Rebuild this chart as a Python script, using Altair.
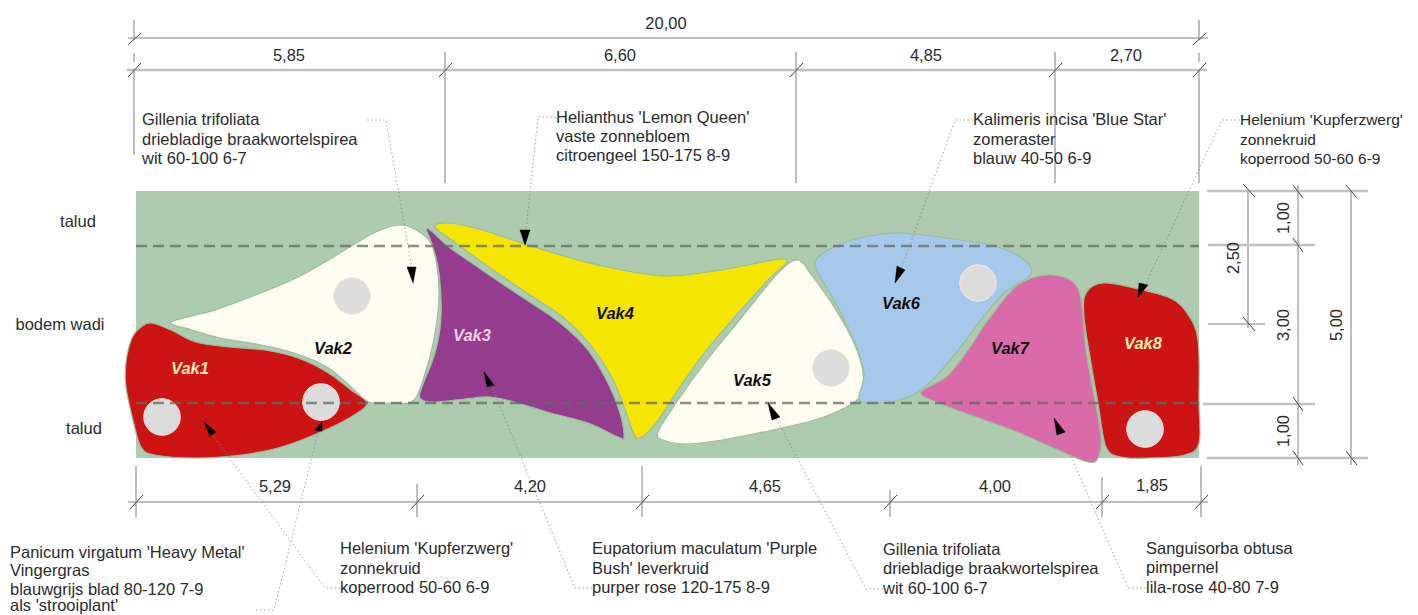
import altair as alt
import pandas as pd

# ---- values (page pixels) ----
vak1 = [(151,323),(171,330),(196,342),(229,347),(265,350),(298,358),(327,372),(351,390),(367,403),(351,417),(314,435),(278,448),(241,455),(196,458),(155,455),(141,447),(133,420),(126,387),(126,362),(132,338),(141,327)]
vak2 = [(171,322),(212,311),(253,296),(294,279),(325,262),(353,245),(378,231),(400,225),(416,230),(431,243),(437,267),(439,297),(435,333),(427,367),(414,400),(392,403),(369,402),(351,387),(327,367),(294,353),(261,345),(220,338),(192,330)]
vak3 = [(427,228),(449,247),(482,270),(522,297),(559,322),(588,350),(608,383),(620,413),(624,437),(618,437),(588,423),(547,412),(514,402),(490,397),(465,399),(433,402),(420,398),(422,387),(435,353),(441,317),(439,273),(433,247)]
vak4 = [(435,227),(449,223),(482,230),(522,243),(571,258),(612,268),(666,276),(722,270),(785,259),(768,280),(732,320),(701,357),(676,393),(656,423),(640,438),(633,432),(626,412),(613,380),(592,347),(564,318),(527,293),(486,265),(453,241)]
vak5 = [(798,260),(813,277),(834,307),(854,343),(863,373),(859,398),(824,417),(773,430),(722,440),(686,444),(663,440),(658,432),(676,403),(707,360),(742,317),(778,273)]
vak6 = [(816,260),(834,247),(864,237),(900,233),(946,238),(991,245),(1017,255),(1031,268),(1027,278),(1004,293),(981,320),(956,353),(925,387),(900,400),(869,403),(859,398),(864,373),(854,340),(834,300),(818,273)]
vak7 = [(1053,275),(1073,282),(1081,300),(1086,350),(1093,390),(1101,437),(1098,458),(1088,462),(1058,450),(1017,432),(976,417),(936,402),(921,392),(946,377),(966,353),(986,323),(1012,290),(1032,278)]
vak8 = [(1103,283),(1134,288),(1170,298),(1187,313),(1198,340),(1199,403),(1199,443),(1185,455),(1149,458),(1121,457),(1106,447),(1098,403),(1091,363),(1084,317),(1086,293)]
beds = [(vak1,"#CC1414"),(vak2,"#FFFCF2"),(vak4,"#F5E600"),(vak3,"#943D8F"),(vak5,"#FFFCF2"),(vak6,"#A6C8EB"),(vak7,"#D96BA8"),(vak8,"#CC1414")]

circle_x = [162,321,352,831,978,1145]
circle_y = [417,402,296,368,283,429]

arrows = [
    [(407,267),(416,267),(413,283)],
    [(520,230),(530,230),(525,245)],
    [(897,266),(905,270),(895,283)],
    [(1139,283),(1148,285),(1138,297)],
    [(314,430),(322,422),(322,431)],
    [(204,422),(216,432),(210,436)],
    [(484,372),(494,385),(487,387)],
    [(768,403),(780,417),(772,420)],
    [(1054,418),(1065,432),(1057,435)],
]
leaders = [
    [(367,120),(386,120),(414,280)],
    [(556,117),(538,117),(525,240)],
    [(973,120),(955,120),(898,278)],
    [(1240,120),(1222,120),(1142,292)],
    [(256,610),(274,610),(319,428)],
    [(340,588),(325,588),(209,430)],
    [(592,588),(575,588),(489,380)],
    [(883,589),(866,589),(773,412)],
    [(1146,588),(1128,588),(1059,428)],
]
dashed = [[(136,246),(1199,246)],[(136,403),(1199,403)]]
dims_thin = [
    [(128,38),(1208,38)],
    [(134,20),(134,40)],[(134,53),(134,62)],[(134,70),(134,155)],
    [(445,52),(445,183)],[(796,52),(796,183)],[(1055,52),(1055,183)],
    [(1199,20),(1199,40)],[(1199,53),(1199,62)],[(1199,70),(1199,183)],
    [(128,502),(1208,502)],
    [(136,466),(136,517)],[(417,484),(417,517)],[(642,466),(642,517)],[(890,490),(890,517)],[(1102,477),(1102,517)],[(1201,466),(1201,517)],
    [(1208,324),(1265,324)],
    [(1248,191),(1248,328)],[(1298,185),(1298,465)],[(1351,190),(1351,465)],
]
dims_thick = [
    [(127,70),(1207,70)],
    [(1207,191),(1368,191)],[(1208,245),(1315,245)],[(1203,404),(1315,404)],[(1207,458),(1368,458)],
]
slashes = [
    [(128,45),(141,33)],[(128,77),(141,63)],[(439,77),(452,63)],[(790,77),(803,63)],[(1049,77),(1062,63)],[(1193,77),(1206,63)],[(1193,45),(1206,33)],
    [(130,509),(143,495)],[(411,509),(424,495)],[(636,509),(649,495)],[(884,509),(897,495)],[(1096,509),(1109,495)],[(1195,509),(1208,495)],
    [(1243,184),(1255,197)],[(1293,185),(1303,198)],[(1346,185),(1357,198)],[(1293,238),(1303,252)],[(1243,317),(1255,331)],[(1293,397),(1303,411)],[(1293,451),(1303,465)],[(1346,451),(1357,465)],
]

plain_text = [
    ("20,00",666,24),("5,85",289,56),("6,60",620,56),("4,85",926,56),("2,70",1126,56),
    ("5,29",275,487),("4,20",530,487),("4,65",765,487),("4,00",995,487),("1,85",1152,486),
]
rotated_text = [("2,50",1234,258),("1,00",1284,218),("3,00",1284,325),("1,00",1284,431),("5,00",1337,325)]
left_text = [("talud",78,222),("bodem wadi",60,325),("talud",84,429)]
vak_text = [
    ("Vak1",190,369,"#FFE9B0"),("Vak2",333,349,"#111111"),("Vak3",472,336,"#F0D0E8"),("Vak4",615,314,"#111111"),
    ("Vak5",752,381,"#111111"),("Vak6",901,304,"#111111"),("Vak7",1010,349,"#111111"),("Vak8",1143,344,"#FFE9B0"),
]
notes = [
    ("Gillenia trifoliata",142,120),("driebladige braakwortelspirea",142,140),("wit 60-100 6-7",142,159),
    ("Helianthus 'Lemon Queen'",556,118),("vaste zonnebloem",556,137),("citroengeel 150-175 8-9",556,156),
    ("Kalimeris incisa 'Blue Star'",973,120),("zomeraster",973,140),("blauw 40-50 6-9",973,159),
    ("Panicum virgatum 'Heavy Metal'",10,553),("Vingergras",10,571),("blauwgrijs blad 80-120 7-9",10,590),("als 'strooiplant'",10,606),
    ("Helenium 'Kupferzwerg'",340,549),("zonnekruid",340,569),("koperrood 50-60 6-9",340,588),
    ("Eupatorium maculatum 'Purple",592,549),("Bush' leverkruid",592,569),("purper rose 120-175 8-9",592,588),
    ("Gillenia trifoliata",883,550),("driebladige braakwortelspirea",883,569),("wit 60-100 6-7",883,589),
    ("Sanguisorba obtusa",1146,549),("pimpernel",1146,568),("lila-rose 40-80 7-9",1146,588),
]
notes_right = [("Helenium 'Kupferzwerg'",1240,120),("zonnekruid",1240,140),("koperrood 50-60 6-9",1240,159)]

# ---- shared pixel-like scales ----
W, H = 1402, 606
X = alt.X("x:Q", axis=None, scale=alt.Scale(domain=[8, 8 + W], nice=False, zero=False))
Y = alt.Y("y:Q", axis=None, scale=alt.Scale(domain=[8 + H, 8], nice=False, zero=False))
FONT = "Liberation Sans"
TS = 16.5

def path_df(pts):
    return pd.DataFrame({"x": [p[0] for p in pts], "y": [p[1] for p in pts], "i": range(len(pts))})

def multi_df(paths):
    rows = []
    for k, pts in enumerate(paths):
        for i, p in enumerate(pts):
            rows.append({"x": p[0], "y": p[1], "i": i, "k": k})
    return pd.DataFrame(rows)

def text_layer(rows, size, color="#2b2b2b", align="center", **kw):
    df = pd.DataFrame(rows, columns=["t", "x", "y"])
    return alt.Chart(df).mark_text(font=FONT, fontSize=size, color=color, align=align, baseline="middle", **kw).encode(x=X, y=Y, text="t:N")

layers = []
# ground
layers.append(alt.Chart(pd.DataFrame({"x": [136], "x2": [1199], "y": [191], "y2": [458]})).mark_rect(color="#ADCBAE").encode(x=X, x2="x2:Q", y=Y, y2="y2:Q"))
# beds
for pts, col in beds:
    layers.append(alt.Chart(path_df(pts)).mark_line(interpolate="cardinal-closed", tension=0, fill=col, stroke="#9CBD9E", strokeWidth=1.2, filled=False).encode(x=X, y=Y, order="i:Q"))
# circles
layers.append(alt.Chart(pd.DataFrame({"x": circle_x, "y": circle_y})).mark_point(shape="circle", filled=True, size=1340, color="#DCDCDC", stroke="#F0E6DC", strokeWidth=1, opacity=1).encode(x=X, y=Y))
# dashed
layers.append(alt.Chart(multi_df(dashed)).mark_line(color="#5f6b62", opacity=0.75, strokeWidth=2.5, strokeDash=[11, 6]).encode(x=X, y=Y, detail="k:N", order="i:Q"))
# dimension lines
layers.append(alt.Chart(multi_df(dims_thin)).mark_line(color="#a8a8a8", strokeWidth=1.5).encode(x=X, y=Y, detail="k:N", order="i:Q"))
layers.append(alt.Chart(multi_df(dims_thick)).mark_line(color="#c0c0c0", strokeWidth=2.5).encode(x=X, y=Y, detail="k:N", order="i:Q"))
layers.append(alt.Chart(multi_df(slashes)).mark_line(color="#444444", strokeWidth=1).encode(x=X, y=Y, detail="k:N", order="i:Q"))
# leaders
layers.append(alt.Chart(multi_df(leaders)).mark_line(color="#8a8a8a", strokeWidth=0.8, strokeDash=[1.5, 2.5]).encode(x=X, y=Y, detail="k:N", order="i:Q"))
# arrowheads
for pts in arrows:
    layers.append(alt.Chart(path_df(pts)).mark_line(interpolate="linear-closed", fill="#000000", stroke="#000000", strokeWidth=0.5, filled=False).encode(x=X, y=Y, order="i:Q"))
# text
layers.append(text_layer(plain_text, TS))
layers.append(text_layer(rotated_text, TS, angle=270))
layers.append(text_layer(left_text, TS))
layers.append(text_layer(notes, TS, align="left"))
layers.append(text_layer(notes_right, 15.5, align="left"))
for t, x, y, c in vak_text:
    layers.append(text_layer([(t, x, y)], TS, color=c, fontStyle="italic", fontWeight="bold"))

chart = alt.layer(*layers).properties(
    width=W, height=H, padding=0, background="white",
    autosize=alt.AutoSizeParams(type="none"),
).configure_view(stroke=None)
chart.save("out.html", embed_options={"renderer": "svg", "actions": False})
